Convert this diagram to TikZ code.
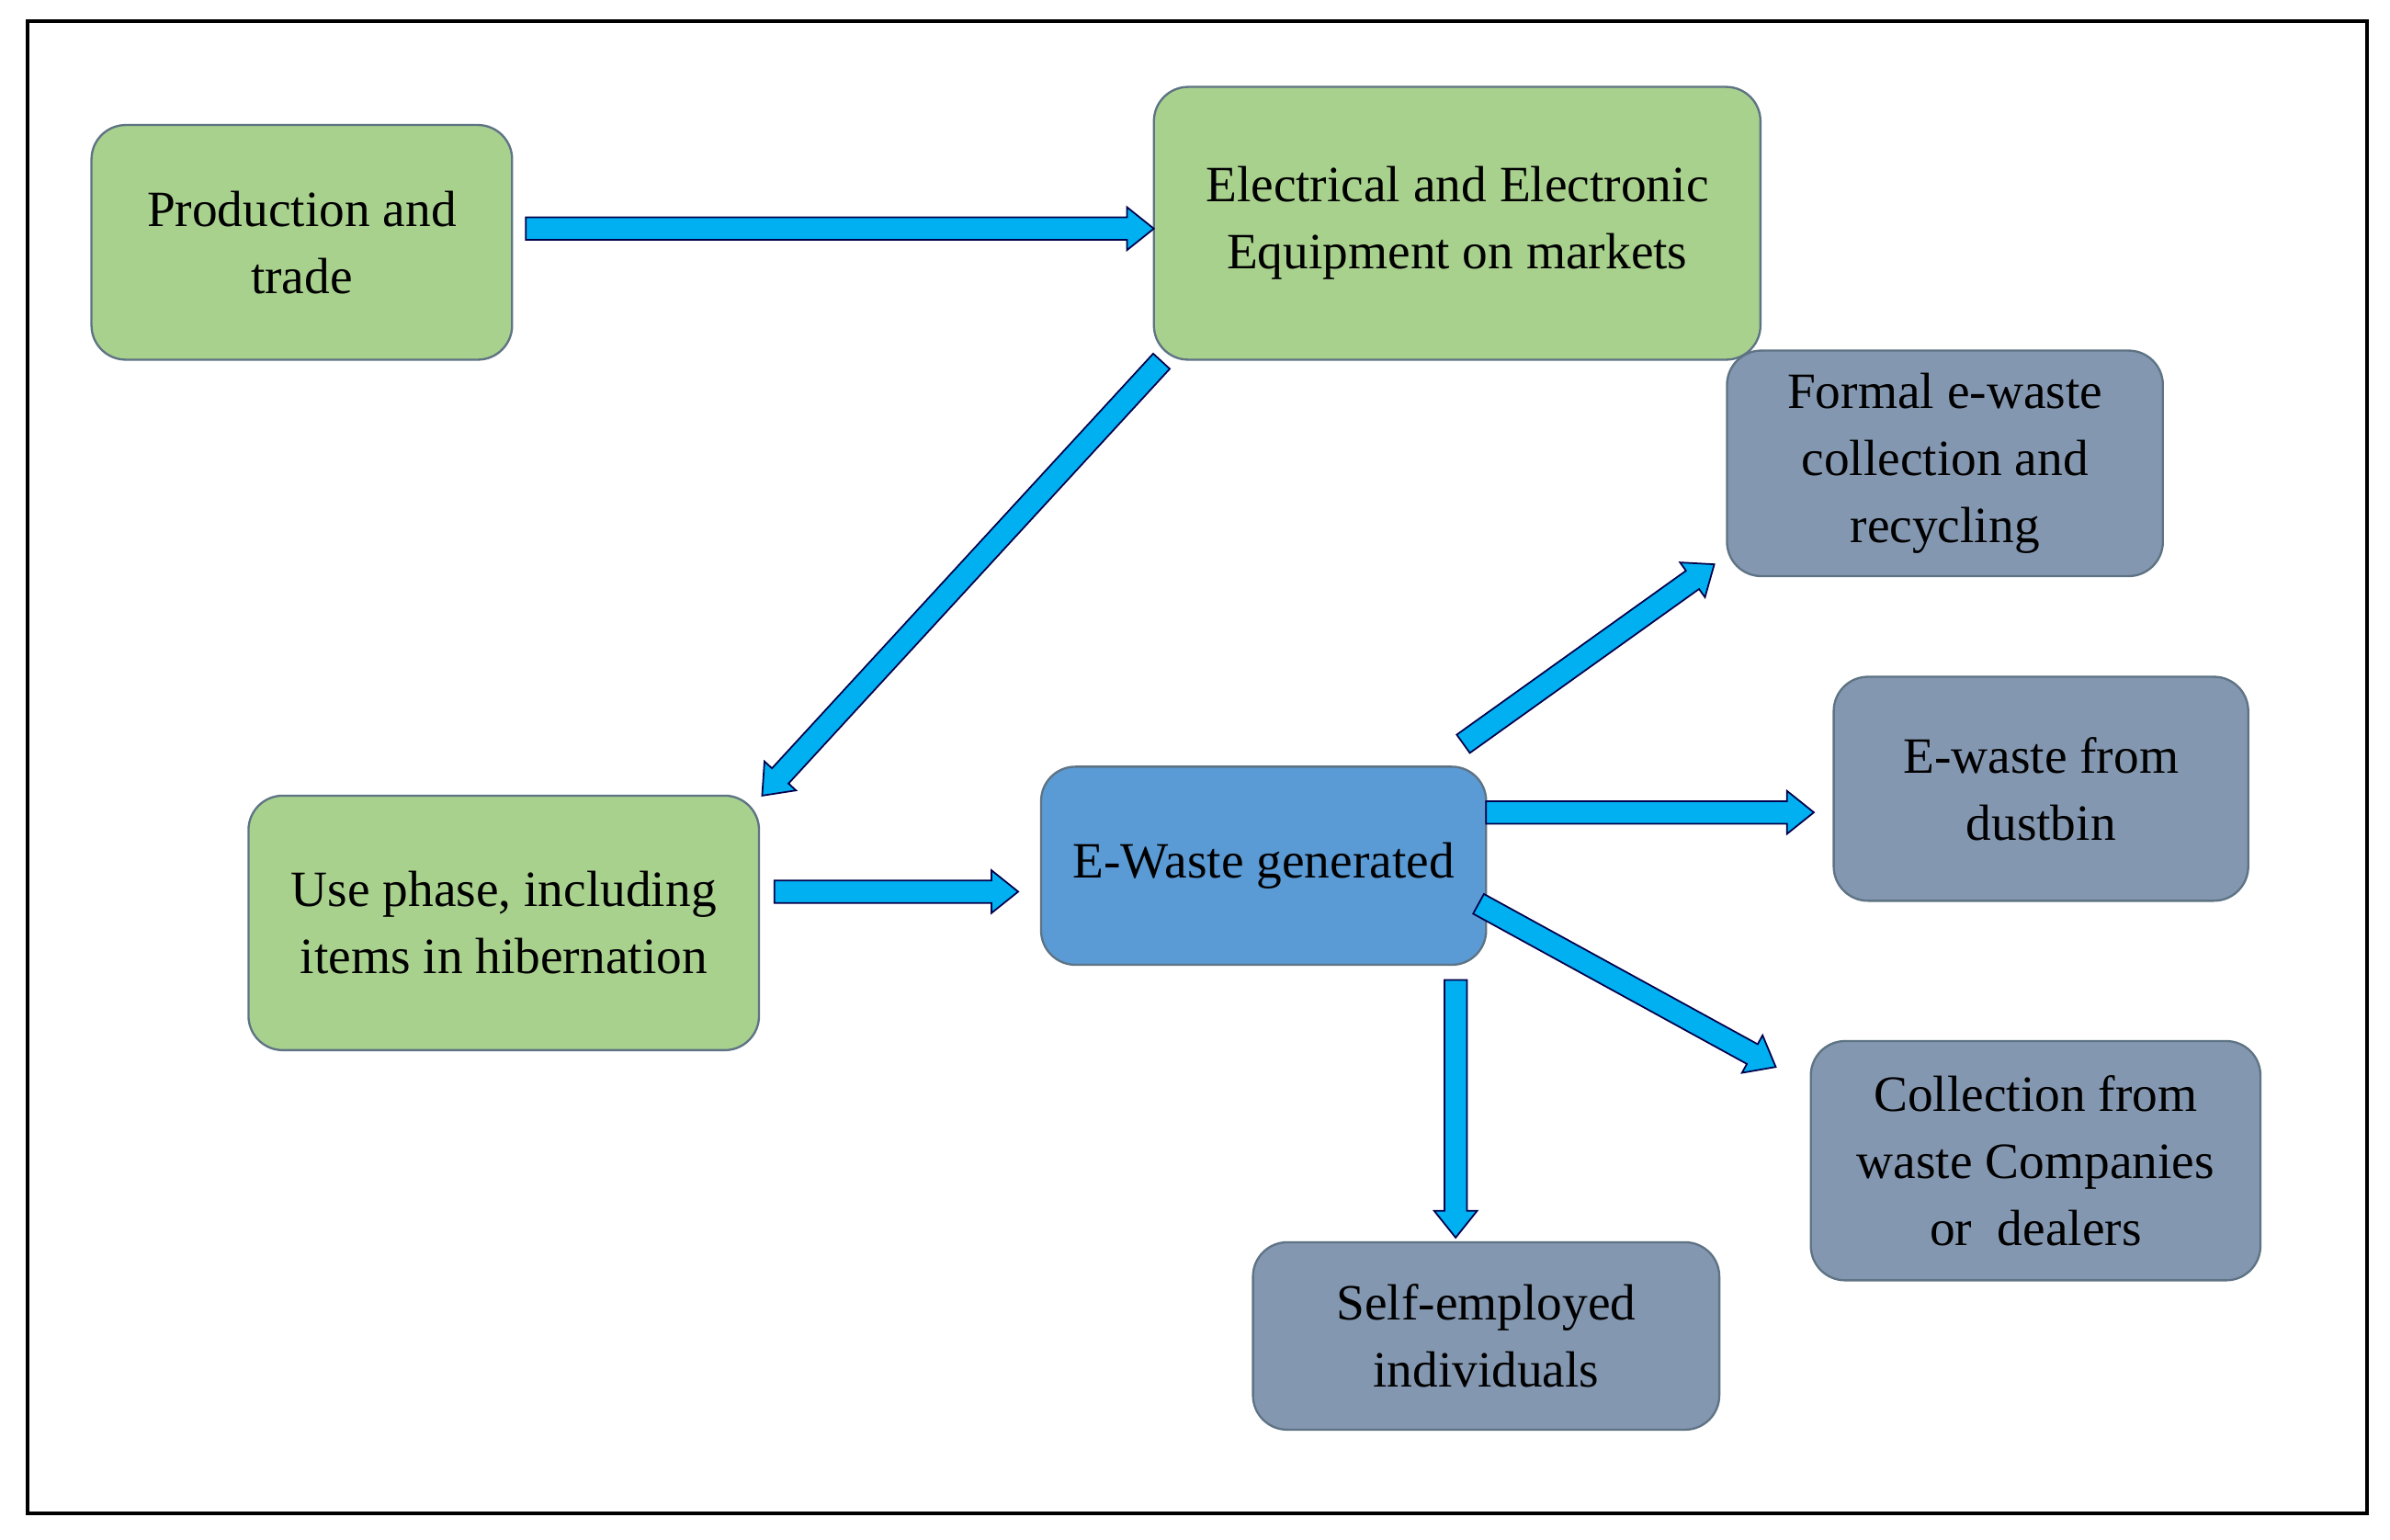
\documentclass[tikz,border=0pt]{standalone}
\usepackage{fontspec}
\setmainfont{Liberation Serif}
\usetikzlibrary{calc}
\definecolor{gr}{HTML}{A9D18E}
\definecolor{sl}{HTML}{8497B0}
\definecolor{bl}{HTML}{5B9BD5}
\definecolor{cy}{HTML}{00B0F0}
\definecolor{ed}{HTML}{5E7384}
\tikzset{
 box/.style={draw=ed,line width=0.8pt,rounded corners=0.45cm,align=center,inner sep=2pt,
   font=\fontsize{19}{25}\selectfont},
 barrow/.style={fill=cy,draw=black!70!blue,line width=0.6pt,line join=miter}
}
\newcommand\barr[2]{%
 \draw[barrow] let \p1=(#1),\p2=(#2),\n1={atan2(\y2-\y1,\x2-\x1)},\n2={veclen(\x2-\x1,\y2-\y1)} in
  [shift={(\p1)},rotate=\n1] (0pt,-4.2pt) -- ({(\n2-10)*1pt},-4.2pt) -- ({(\n2-10)*1pt},-8pt) -- ({\n2*1pt},0pt)
  -- ({(\n2-10)*1pt},8pt) -- ({(\n2-10)*1pt},4.2pt) -- (0pt,4.2pt) -- cycle;}
\begin{document}
\begin{tikzpicture}[x=0.02cm,y=-0.02cm]
\useasboundingbox (0,0) rectangle (1568,1010);
\fill[white] (0,0) rectangle (1568,1010);
\draw[line width=1.2pt] (18,14) rectangle (1553,993);
\node[box,fill=gr,minimum width=5.52cm,minimum height=3.08cm] (prod) at (198,159) {Production and\\trade};
\node[box,fill=gr,minimum width=7.96cm,minimum height=3.58cm] (eee) at (956,146.5) {Electrical and Electronic\\Equipment on markets};
\node[box,fill=sl,minimum width=5.72cm,minimum height=2.96cm] (formal) at (1276,304) {Formal e-waste\\collection and\\recycling};
\node[box,fill=sl,minimum width=5.44cm,minimum height=2.94cm] (dust) at (1339,517.5) {E-waste from\\dustbin};
\node[box,fill=gr,minimum width=6.7cm,minimum height=3.34cm] (use) at (330.5,605.5) {Use phase, including\\items in hibernation};
\node[box,fill=bl,minimum width=5.84cm,minimum height=2.6cm] (gen) at (829,568) {E-Waste generated};
\node[box,fill=sl,minimum width=5.9cm,minimum height=3.14cm] (coll) at (1335.5,761.5) {Collection from\\waste Companies\\or\ \ dealers};
\node[box,fill=sl,minimum width=6.12cm,minimum height=2.46cm] (self) at (975,876.5) {Self-employed\\individuals};
\coordinate (a1s) at (345,150); \coordinate (a1e) at (757,150);
\coordinate (a2s) at (762,237); \coordinate (a2e) at (500,522);
\coordinate (a3s) at (508,585); \coordinate (a3e) at (668,585);
\coordinate (a4s) at (960,488); \coordinate (a4e) at (1125,370);
\coordinate (a5s) at (975,533); \coordinate (a5e) at (1190,533);
\coordinate (a6s) at (970,593); \coordinate (a6e) at (1165,700);
\coordinate (a7s) at (955,643); \coordinate (a7e) at (955,812);
\barr{a1s}{a1e}\barr{a2s}{a2e}\barr{a3s}{a3e}\barr{a4s}{a4e}
\barr{a5s}{a5e}\barr{a6s}{a6e}\barr{a7s}{a7e}
\end{tikzpicture}
\end{document}
